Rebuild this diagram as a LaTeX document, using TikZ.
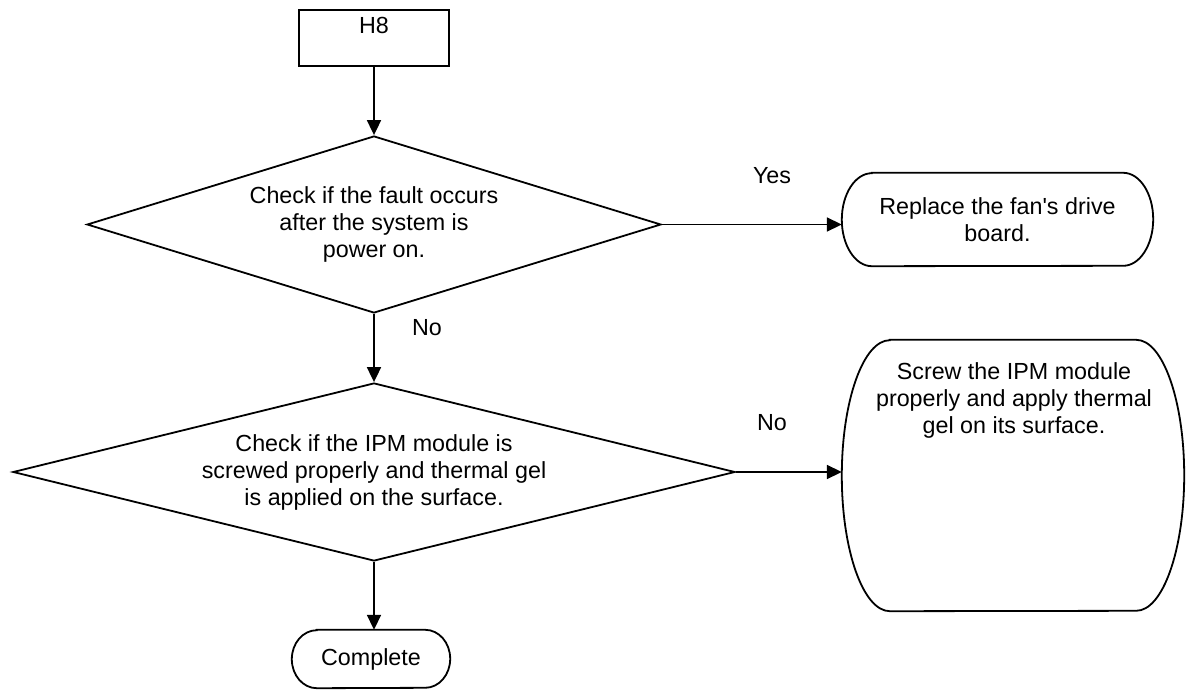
\documentclass[tikz,border=0pt]{standalone}
\usepackage{fontspec}
\setmainfont{Liberation Sans}[Ligatures=TeXOff]
\usetikzlibrary{shapes.geometric,arrows.meta}
\newcommand\pillshape[3]{%
  \draw[outline] ([xshift=#2]#1.north west) -- ([xshift=-#2]#1.north east)
    arc[start angle=90,end angle=-90,x radius=#2,y radius=#3]
    -- ([xshift=#2]#1.south west)
    arc[start angle=270,end angle=90,x radius=#2,y radius=#3] -- cycle;}
\tikzset{
  txt/.style={font=\fontsize{23.3pt}{27pt}\selectfont, align=center, inner sep=0pt},
  outline/.style={line width=1.8pt, draw=black},
  boxnode/.style={outline, rectangle, inner sep=0pt},
  decision/.style={outline, diamond, txt, inner sep=0pt},
  pillnode/.style={rectangle, draw=none, inner sep=0pt},
  conn/.style={line width=1.8pt, -{Triangle[length=15pt,width=14pt]}},
}
\begin{document}
\begin{tikzpicture}[x=1pt,y=1pt]
\useasboundingbox (0,0) rectangle (1186,-690);
% start box
\node (h8) [boxnode, minimum width=150pt, minimum height=56pt,
  label={[txt, anchor=north, yshift=-8pt]north:H8}] at (374,-38) {};
% decisions
\node (d1) [decision, minimum width=574pt, minimum height=177pt, shape aspect=3.24]
  at (374,-224.5) {Check if the fault occurs\\after the system is\\power on.};
\node (d2) [decision, minimum width=722pt, minimum height=178pt, shape aspect=4.06]
  at (374,-472) {Check if the IPM module is\\screwed properly and thermal gel\\is applied on the surface.};
% terminal shapes
\node (r1) [pillnode, minimum width=311pt, minimum height=93pt] at (997.5,-219.5) {};
\pillshape{r1}{30pt}{46.5pt}
\node (r1t) [txt] at (997.5,-219.5) {Replace the fan's drive\\board.};
\node (r2) [pillnode, minimum width=342pt, minimum height=271pt] at (1013,-475.5) {};
\pillshape{r2}{48pt}{135.5pt}
\node (r2t) [txt, anchor=north] at (1014,-362) {Screw the IPM module\\properly and apply thermal\\gel on its surface.};
\node (c) [pillnode, txt, minimum width=158pt, minimum height=58pt] at (371,-659) {Complete};
\pillshape{c}{25pt}{29pt}
% connectors
\draw[conn] (h8.south) -- (d1.north);
\draw[conn] (d1.east) -- (d1.east -| r1.west);
\draw[conn] (d1.south) -- (d2.north);
\draw[conn] (d2.east) -- (d2.east -| r2.west);
\draw[conn] (d2.south) -- (d2.south |- c.north);
% labels
\node (lyes) [txt] at (772,-176) {Yes};
\node (lno1) [txt] at (427,-328) {No};
\node (lno2) [txt] at (772,-423) {No};
\end{tikzpicture}
\end{document}
